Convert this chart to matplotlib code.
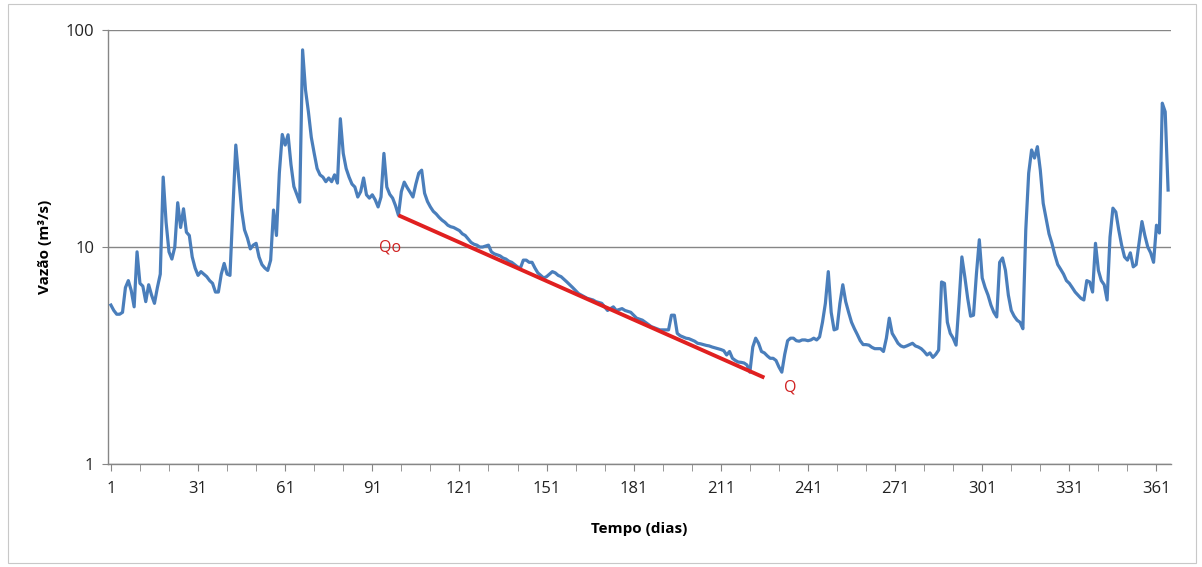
import matplotlib
matplotlib.use("Agg")
import matplotlib.pyplot as plt
from matplotlib.patches import Rectangle
import numpy as np

# ---- data -------------------------------------------------------------
days = list(range(1, 366))

flow_001_050 = [5.4, 5.1, 4.9, 4.9, 5.0, 6.5, 7.0, 6.3, 5.3, 9.5,
                6.8, 6.6, 5.6, 6.7, 6.0, 5.5, 6.5, 7.5, 21.0, 13.0,
                9.5, 8.8, 10.0, 16.0, 12.3, 15.0, 11.7, 11.3, 9.0, 8.0,
                7.4, 7.7, 7.5, 7.3, 7.0, 6.8, 6.2, 6.2, 7.5, 8.4,
                7.5, 7.4, 15.0, 29.5, 21.0, 14.8, 12.0, 11.0, 9.8, 10.2]
flow_051_100 = [10.4, 9.0, 8.3, 8.0, 7.8, 8.7, 14.8, 11.3, 22.0, 33.0,
                29.5, 32.9, 24.0, 19.0, 17.5, 16.1, 81.0, 53.0, 42.0, 32.0,
                27.0, 23.0, 21.5, 21.0, 20.0, 20.8, 20.0, 21.5, 19.7, 39.0,
                27.0, 23.0, 21.0, 19.5, 18.9, 17.0, 18.0, 20.8, 17.4, 16.8,
                17.4, 16.5, 15.3, 17.0, 27.0, 18.9, 17.5, 16.8, 15.5, 14.0]
flow_101_150 = [18.0, 19.9, 18.8, 17.9, 17.0, 19.5, 21.9, 22.6, 17.7, 16.2,
                15.3, 14.6, 14.2, 13.7, 13.3, 13.0, 12.6, 12.4, 12.3, 12.1,
                11.9, 11.5, 11.3, 10.9, 10.5, 10.3, 10.2, 10.0, 10.0, 10.1,
                10.2, 9.5, 9.3, 9.2, 9.1, 8.9, 8.8, 8.6, 8.5, 8.3,
                8.1, 8.0, 8.7, 8.7, 8.5, 8.5, 8.0, 7.6, 7.4, 7.2]
flow_151_200 = [7.3, 7.5, 7.7, 7.6, 7.4, 7.3, 7.1, 6.9, 6.7, 6.5,
                6.3, 6.1, 6.0, 5.9, 5.8, 5.75, 5.7, 5.6, 5.55, 5.5,
                5.3, 5.1, 5.2, 5.3, 5.1, 5.15, 5.2, 5.1, 5.05, 5.0,
                4.85, 4.7, 4.65, 4.6, 4.5, 4.4, 4.3, 4.25, 4.2, 4.15,
                4.15, 4.15, 4.15, 4.85, 4.85, 4.0, 3.9, 3.85, 3.8, 3.78]
flow_201_250 = [3.73, 3.68, 3.6, 3.58, 3.55, 3.52, 3.5, 3.46, 3.43, 3.4,
                3.37, 3.33, 3.18, 3.3, 3.07, 3.0, 2.95, 2.94, 2.92, 2.86,
                2.65, 3.46, 3.8, 3.6, 3.3, 3.25, 3.15, 3.07, 3.07, 3.0,
                2.8, 2.65, 3.2, 3.7, 3.8, 3.8, 3.7, 3.68, 3.73, 3.73,
                3.7, 3.73, 3.8, 3.73, 3.85, 4.5, 5.5, 7.7, 5.0, 4.15]
flow_251_300 = [4.2, 5.5, 6.7, 5.6, 5.0, 4.5, 4.2, 3.95, 3.7, 3.55,
                3.55, 3.53, 3.45, 3.4, 3.4, 3.4, 3.3, 3.8, 4.7, 4.0,
                3.8, 3.6, 3.5, 3.46, 3.5, 3.55, 3.6, 3.5, 3.46, 3.4,
                3.3, 3.18, 3.25, 3.1, 3.2, 3.35, 6.9, 6.8, 4.5, 4.0,
                3.8, 3.53, 5.5, 9.0, 7.3, 5.8, 4.8, 4.85, 7.5, 10.8]
flow_301_365 = [7.2, 6.5, 6.0, 5.4, 5.0, 4.76, 8.5, 8.9, 7.8, 6.0,
                5.1, 4.8, 4.6, 4.5, 4.2, 12.0, 21.9, 28.0, 25.7, 29.0,
                22.6, 15.9, 13.5, 11.5, 10.4, 9.2, 8.3, 7.9, 7.5, 7.0,
                6.8, 6.5, 6.2, 6.0, 5.8, 5.7, 7.0, 6.9, 6.2, 10.4,
                7.8, 7.0, 6.7, 5.7, 11.1, 15.1, 14.5, 12.0, 10.2, 9.0,
                8.7, 9.4, 8.1, 8.3, 10.4, 13.1, 11.3, 10.0, 9.4, 8.5,
                12.6, 11.6, 46.0, 42.0, 18.3]

flow = (flow_001_050 + flow_051_100 + flow_101_150 + flow_151_200 +
        flow_201_250 + flow_251_300 + flow_301_365)

# recession line (Qo -> Q)
recession_days = [100, 226]
recession_flow = [14.0, 2.5]

x_tick_labels = [1, 31, 61, 91, 121, 151, 181, 211, 241, 271, 301, 331, 361]
y_tick_labels = [1, 10, 100]

# ---- figure -----------------------------------------------------------
plt.rcParams['font.family'] = ['Open Sans', 'DejaVu Sans']

W, H = 1202, 567
fig = plt.figure(figsize=(W / 100, H / 100), dpi=100)
fig.patch.set_facecolor('white')

# outer chart border
fig.add_artist(Rectangle((8 / W, 4 / H), (W - 14) / W, (H - 8) / H,
                         transform=fig.transFigure, fill=False,
                         edgecolor='#c8c8c8', linewidth=0.8))

ax = fig.add_axes([108 / W, 1 - 464 / H, (1171 - 108) / W, (464 - 30) / H])

ax.plot(days, flow, color='#4a7ebb', linewidth=2.3, solid_joinstyle='round', zorder=3)
ax.plot(recession_days, recession_flow, color='#e02020', linewidth=2.8,
        solid_capstyle='butt', zorder=4)

ax.set_yscale('log')
ax.set_ylim(1, 100)
ax.set_xlim(0, 366)

ax.set_yticks(y_tick_labels)
ax.set_yticklabels([str(v) for v in y_tick_labels])
ax.yaxis.set_minor_locator(matplotlib.ticker.NullLocator())
ax.set_xticks(x_tick_labels)
ax.set_xticklabels([str(v) for v in x_tick_labels])
ax.set_xticks(np.arange(1, 366, 10), minor=True)

ax.tick_params(axis='x', which='both', length=5, color='#868686', labelsize=12,
               pad=7, labelcolor='#222222')
ax.tick_params(axis='y', which='major', length=4, color='#868686', labelsize=12,
               pad=6, labelcolor='#222222')

ax.grid(axis='y', which='major', color='#868686', linewidth=1.0)
ax.set_axisbelow(True)
for s in ['top', 'right']:
    ax.spines[s].set_visible(False)
for s in ['left', 'bottom']:
    ax.spines[s].set_color('#868686')
    ax.spines[s].set_linewidth(1.0)

ax.set_xlabel('Tempo (dias)', fontsize=11, fontweight='bold', labelpad=18)
ax.set_ylabel('Vazão (m³/s)', fontsize=11, fontweight='bold', labelpad=10)

ax.text(97, 10.0, 'Qo', color='#d02020', fontsize=11.5, ha='center', va='center')
ax.text(235, 2.25, 'Q', color='#d02020', fontsize=11.5, ha='center', va='center')

fig.savefig('out.png', dpi=100, facecolor='white')
